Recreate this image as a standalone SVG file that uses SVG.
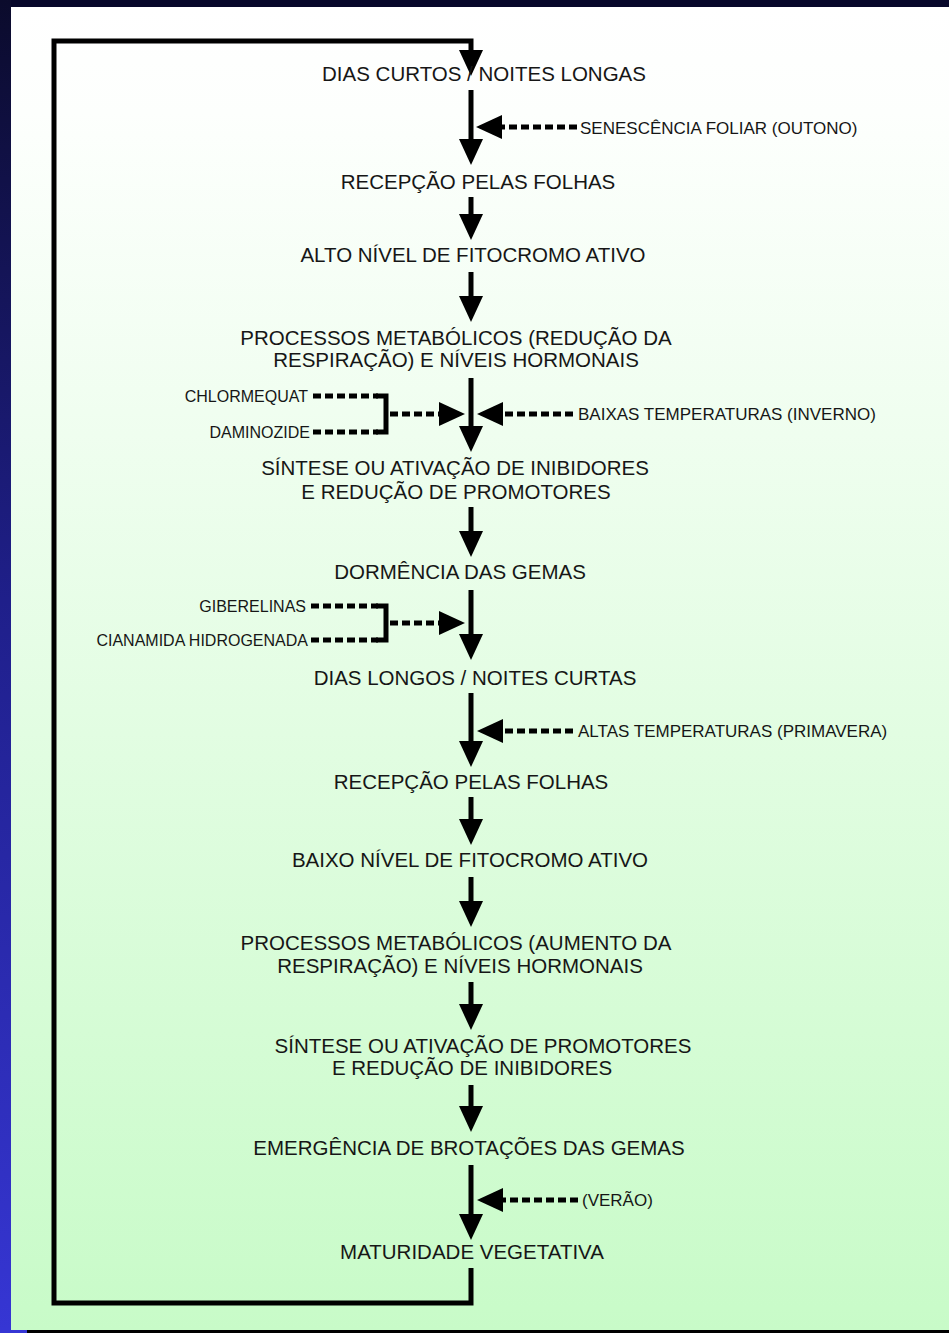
<svg xmlns="http://www.w3.org/2000/svg" width="949" height="1333" viewBox="0 0 949 1333">
  <defs>
    <linearGradient id="panelFill" x1="0" y1="0" x2="0" y2="1">
      <stop offset="0" stop-color="#ffffff"/>
      <stop offset="0.08" stop-color="#fdfffd"/>
      <stop offset="1" stop-color="#c8fbc8"/>
    </linearGradient>
    <linearGradient id="edgeFill" x1="0" y1="0" x2="0" y2="1">
      <stop offset="0" stop-color="#0b0b2c"/>
      <stop offset="0.45" stop-color="#1f1f8a"/>
      <stop offset="1" stop-color="#3636d4"/>
    </linearGradient>
    <!-- solid triangular arrowhead; tip sits 16px past the end of the stroke -->
    <marker id="head" viewBox="0 0 26 24" refX="10" refY="12" markerWidth="26" markerHeight="24" markerUnits="userSpaceOnUse" orient="auto">
      <path d="M0,0 L26,12 L0,24 Z" fill="#000"/>
    </marker>
    <style>
      .node text { font-family: "Liberation Sans", Arial, sans-serif; font-size: 20.5px; fill: #161616; text-anchor: middle; }
      .side text { font-family: "Liberation Sans", Arial, sans-serif; font-size: 17px; fill: #161616; }
      .side text.lft { font-size: 16px; text-anchor: end; }
      .stem { stroke: #000; stroke-width: 5; fill: none; marker-end: url(#head); }
      .loop { stroke: #000; stroke-width: 5; fill: none; stroke-linejoin: miter; marker-end: url(#head); }
      .dash { stroke: #000; stroke-width: 5; fill: none; stroke-dasharray: 8 4; }
      .dashHead { stroke: #000; stroke-width: 5; fill: none; stroke-dasharray: 8 4; marker-end: url(#head); }
      .brace { stroke: #000; stroke-width: 5; fill: none; stroke-linejoin: miter; }
    </style>
  </defs>

  <!-- backdrop -->
  <rect x="0" y="0" width="949" height="1333" fill="#000"/>
  <rect x="0" y="0" width="949" height="7" fill="#07072a"/>
  <rect x="0" y="0" width="11" height="1333" fill="url(#edgeFill)"/>
  <rect x="0" y="1328" width="27" height="5" fill="#3636d4"/>
  <rect x="11" y="7" width="938" height="1323" fill="url(#panelFill)"/>

  <!-- connectors -->
  <g id="connectors">
    <!-- return loop: maturity back to short days -->
    <path class="loop" d="M471,1268 V1303 H54 V41 H471 V60"/>
    <!-- main chain -->
    <line class="stem" x1="471" y1="90" x2="471" y2="149"/>
    <line class="stem" x1="471" y1="197" x2="471" y2="224"/>
    <line class="stem" x1="471" y1="272" x2="471" y2="306"/>
    <line class="stem" x1="471" y1="378" x2="471" y2="436"/>
    <line class="stem" x1="471" y1="507" x2="471" y2="541"/>
    <line class="stem" x1="471" y1="590" x2="471" y2="644"/>
    <line class="stem" x1="471" y1="693" x2="471" y2="751"/>
    <line class="stem" x1="471" y1="797" x2="471" y2="829"/>
    <line class="stem" x1="471" y1="877" x2="471" y2="911"/>
    <line class="stem" x1="471" y1="982" x2="471" y2="1014"/>
    <line class="stem" x1="471" y1="1085" x2="471" y2="1116"/>
    <line class="stem" x1="471" y1="1165" x2="471" y2="1224"/>

    <!-- external inputs from the right -->
    <line class="dashHead" x1="577" y1="127" x2="492" y2="127"/>
    <line class="dashHead" x1="573" y1="414" x2="493" y2="414"/>
    <line class="dashHead" x1="573" y1="731" x2="493" y2="731"/>
    <line class="dashHead" x1="578" y1="1200" x2="493" y2="1200"/>

    <!-- growth regulators from the left -->
    <line class="dash" x1="313" y1="396" x2="378" y2="396"/>
    <line class="dash" x1="313" y1="432" x2="378" y2="432"/>
    <path class="brace" d="M376,396 H386 V432 H376"/>
    <line class="dashHead" x1="390" y1="414" x2="449" y2="414"/>

    <line class="dash" x1="311" y1="606" x2="378" y2="606"/>
    <line class="dash" x1="311" y1="640" x2="378" y2="640"/>
    <path class="brace" d="M376,606 H386 V640 H376"/>
    <line class="dashHead" x1="390" y1="623" x2="449" y2="623"/>
  </g>

  <!-- chain stages -->
  <g id="n01" class="node"><text x="484" y="81">DIAS CURTOS / NOITES LONGAS</text></g>
  <g id="n02" class="node"><text x="478" y="189">RECEPÇÃO PELAS FOLHAS</text></g>
  <g id="n03" class="node"><text x="473" y="262">ALTO NÍVEL DE FITOCROMO ATIVO</text></g>
  <g id="n04" class="node">
    <text x="456" y="345">PROCESSOS METABÓLICOS (REDUÇÃO DA</text>
    <text x="456" y="367">RESPIRAÇÃO) E NÍVEIS HORMONAIS</text>
  </g>
  <g id="n05" class="node">
    <text x="455" y="475">SÍNTESE OU ATIVAÇÃO DE INIBIDORES</text>
    <text x="456" y="499">E REDUÇÃO DE PROMOTORES</text>
  </g>
  <g id="n06" class="node"><text x="460" y="579">DORMÊNCIA DAS GEMAS</text></g>
  <g id="n07" class="node"><text x="475" y="685">DIAS LONGOS / NOITES CURTAS</text></g>
  <g id="n08" class="node"><text x="471" y="789">RECEPÇÃO PELAS FOLHAS</text></g>
  <g id="n09" class="node"><text x="470" y="867">BAIXO NÍVEL DE FITOCROMO ATIVO</text></g>
  <g id="n10" class="node">
    <text x="456" y="950">PROCESSOS METABÓLICOS (AUMENTO DA</text>
    <text x="460" y="973">RESPIRAÇÃO) E NÍVEIS HORMONAIS</text>
  </g>
  <g id="n11" class="node">
    <text x="483" y="1053">SÍNTESE OU ATIVAÇÃO DE PROMOTORES</text>
    <text x="472" y="1075">E REDUÇÃO DE INIBIDORES</text>
  </g>
  <g id="n12" class="node"><text x="469" y="1155">EMERGÊNCIA DE BROTAÇÕES DAS GEMAS</text></g>
  <g id="n13" class="node"><text x="472" y="1259">MATURIDADE VEGETATIVA</text></g>

  <!-- input labels -->
  <g id="in-outono" class="side"><text x="580" y="134">SENESCÊNCIA FOLIAR (OUTONO)</text></g>
  <g id="in-inverno" class="side"><text x="578" y="420">BAIXAS TEMPERATURAS (INVERNO)</text></g>
  <g id="in-chlormequat" class="side"><text class="lft" x="308" y="402">CHLORMEQUAT</text></g>
  <g id="in-daminozide" class="side"><text class="lft" x="310" y="438">DAMINOZIDE</text></g>
  <g id="in-giberelinas" class="side"><text class="lft" x="306" y="612">GIBERELINAS</text></g>
  <g id="in-cianamida" class="side"><text class="lft" x="308" y="646">CIANAMIDA HIDROGENADA</text></g>
  <g id="in-primavera" class="side"><text x="578" y="737">ALTAS TEMPERATURAS (PRIMAVERA)</text></g>
  <g id="in-verao" class="side"><text x="582" y="1206">(VERÃO)</text></g>
</svg>
